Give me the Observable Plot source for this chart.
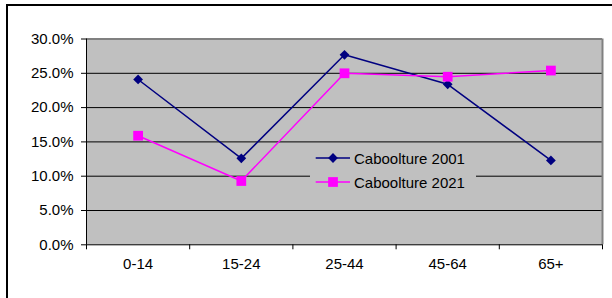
<!DOCTYPE html>
<html><head><meta charset="utf-8">
<script src="https://cdn.jsdelivr.net/npm/d3@7"></script>
<script src="https://cdn.jsdelivr.net/npm/@observablehq/plot@0.6"></script>
<style>
body{margin:0;background:#fff;}
#wrap{position:relative;width:612px;height:298px;overflow:hidden;font-family:Arial,"Liberation Sans",sans-serif;}
#frame{position:absolute;left:6px;top:4px;width:800px;height:600px;border:2px solid #000;pointer-events:none;box-sizing:border-box;}
#legend{position:absolute;left:310px;top:146px;width:166px;height:50px;background:#c0c0c0;}
.row{position:absolute;left:0;height:20px;display:flex;align-items:center;}
.row span{font-size:15px;color:#000;margin-left:4px;white-space:nowrap;}
</style>
</head><body>
<div id="wrap"><div id="chart"></div><div id="frame"></div><div id="legend"></div></div>
<script>
const categories = ["0-14", "15-24", "25-44", "45-64", "65+"];
const seriesNames = ["Caboolture 2001", "Caboolture 2021"];
const values2001 = [0.241, 0.126, 0.277, 0.234, 0.123];
const values2021 = [0.159, 0.093, 0.250, 0.245, 0.254];
const yTicks = [0, 0.05, 0.10, 0.15, 0.20, 0.25, 0.30];
const colors = ["#000080", "#ff00ff"];
const symbols = ["diamond2", "square"];
const markerR = [4.4, 5.5];

const rows = [];
[values2001, values2021].forEach((vals, s) => {
  vals.forEach((v, i) => rows.push({series: seriesNames[s], cat: categories[i], x: i + 0.5, v}));
});

const plot = Plot.plot({
  width: 612,
  height: 298,
  marginLeft: 86,
  marginRight: 10,
  marginTop: 38.5,
  marginBottom: 53.7,
  style: {fontFamily: "Arial, 'Liberation Sans', sans-serif", fontSize: "15px", color: "#000", background: "transparent"},
  x: {type: "linear", domain: [0, categories.length], axis: null},
  y: {domain: [0, 0.30], axis: null},
  marks: [
    Plot.frame({fill: "#c0c0c0", stroke: null}),
    Plot.ruleY(yTicks.filter(d => d > 0 && d < 0.30), {stroke: "#000", strokeWidth: 1}),
    Plot.ruleY([0.30], {stroke: "#808080", strokeWidth: 2}),
    Plot.ruleX([categories.length], {stroke: "#808080", strokeWidth: 2}),
    Plot.ruleX([0], {stroke: "#000", strokeWidth: 1}),
    Plot.ruleY([0], {stroke: "#000", strokeWidth: 1}),
    Plot.axisY({ticks: yTicks, tickFormat: d3.format(".1%"), tickSize: 5, tickPadding: 8, stroke: "#000", fontSize: 15, label: null}),
    Plot.axisX({ticks: d3.range(categories.length + 1), tickFormat: () => "", tickSize: 5, stroke: "#000", label: null}),
    Plot.text(categories, {x: (d, i) => i + 0.5, frameAnchor: "bottom", dy: 24, text: d => d, fontSize: 15, fill: "#000"}),
    ...seriesNames.map((name, s) => Plot.line(rows.filter(r => r.series === name), {x: "x", y: "v", stroke: colors[s], strokeWidth: 1.5})),
    ...seriesNames.map((name, s) => Plot.dot(rows.filter(r => r.series === name), {x: "x", y: "v", symbol: () => symbols[s], r: markerR[s], fill: colors[s], stroke: null}))
  ]
});
document.getElementById("chart").appendChild(plot);

const legend = document.getElementById("legend");
seriesNames.forEach((name, s) => {
  const row = document.createElement("div");
  row.className = "row";
  row.style.top = (2.3 + s * 24) + "px";
  const sym = d3.symbol(s === 0 ? d3.symbolDiamond2 : d3.symbolSquare, markerR[s] * markerR[s] * Math.PI)();
  row.innerHTML = `<svg width="40" height="20" style="display:block"><line x1="5.7" x2="40" y1="10" y2="10" stroke="${colors[s]}" stroke-width="1.5"/><path d="${sym}" transform="translate(23,10)" fill="${colors[s]}"/></svg><span>${name}</span>`;
  legend.appendChild(row);
});
</script>
</body></html>
